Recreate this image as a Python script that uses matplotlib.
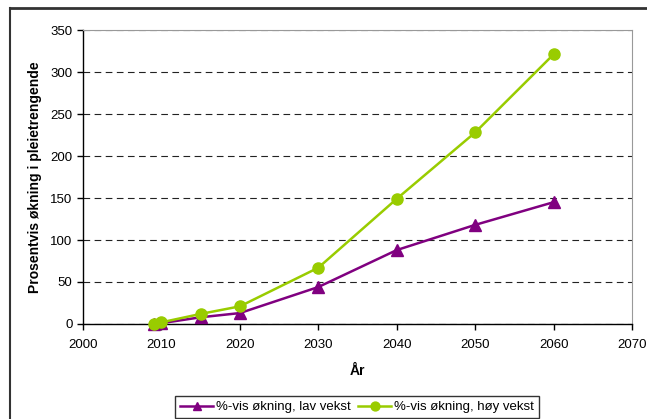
import matplotlib
matplotlib.use('Agg')
import matplotlib.pyplot as plt
from matplotlib.lines import Line2D

years = [2009, 2010, 2015, 2020, 2030, 2040, 2050, 2060]
lav_vekst = [0, 1, 8, 13, 44, 88, 118, 145]
hoy_vekst = [0.5, 2, 12, 21, 67, 149, 228, 321]

plt.rcParams['font.family'] = ['Liberation Sans', 'DejaVu Sans']

fig = plt.figure(figsize=(6.47, 4.19), dpi=100)
ax = fig.add_axes([83 / 647, 1 - 324 / 419, (632 - 83) / 647, (324 - 30) / 419])

ax.plot(years, lav_vekst, color='#800080', marker='^', markersize=8, linewidth=1.8,
        label='%-vis økning, lav vekst', clip_on=False, zorder=3)
ax.plot(years, hoy_vekst, color='#99CC00', marker='o', markersize=8, linewidth=1.8,
        label='%-vis økning, høy vekst', clip_on=False, zorder=4)

ax.set_xlim(2000, 2070)
ax.set_ylim(0, 350)
ax.set_xticks(range(2000, 2071, 10))
ax.set_yticks(range(0, 351, 50))
ax.tick_params(labelsize=9.5, direction='out', length=4, width=1)
ax.tick_params(axis='x', pad=7)

ax.yaxis.grid(True, linestyle=(0, (6, 4)), color='#222222', linewidth=0.8)
ax.set_axisbelow(True)
for s in ['top', 'right']:
    ax.spines[s].set_color('#999999')
for s in ['left', 'bottom']:
    ax.spines[s].set_color('black')
    ax.spines[s].set_linewidth(1)

ax.set_xlabel('År', fontsize=10, fontweight='bold', labelpad=9)
ax.set_ylabel('Prosentvis økning i pleietrengende', fontsize=10, fontweight='bold', labelpad=6)

# outer chart frame (cropped at right and bottom)
fig.add_artist(Line2D([10 / 647, 1], [1 - 8 / 419, 1 - 8 / 419], transform=fig.transFigure,
                      color='#333333', linewidth=2))
fig.add_artist(Line2D([10 / 647, 10 / 647], [0, 1 - 8 / 419], transform=fig.transFigure,
                      color='#333333', linewidth=1.5))

leg = fig.legend(loc='center', bbox_to_anchor=(357 / 647, 1 - 407 / 419), ncol=2,
                 fontsize=9.5, frameon=True, fancybox=False, edgecolor='black',
                 handlelength=2.5, columnspacing=0.6, handletextpad=0.2, borderpad=0.4,
                 markerscale=0.8)
leg.get_frame().set_linewidth(1)

fig.savefig('out.png', dpi=100)
